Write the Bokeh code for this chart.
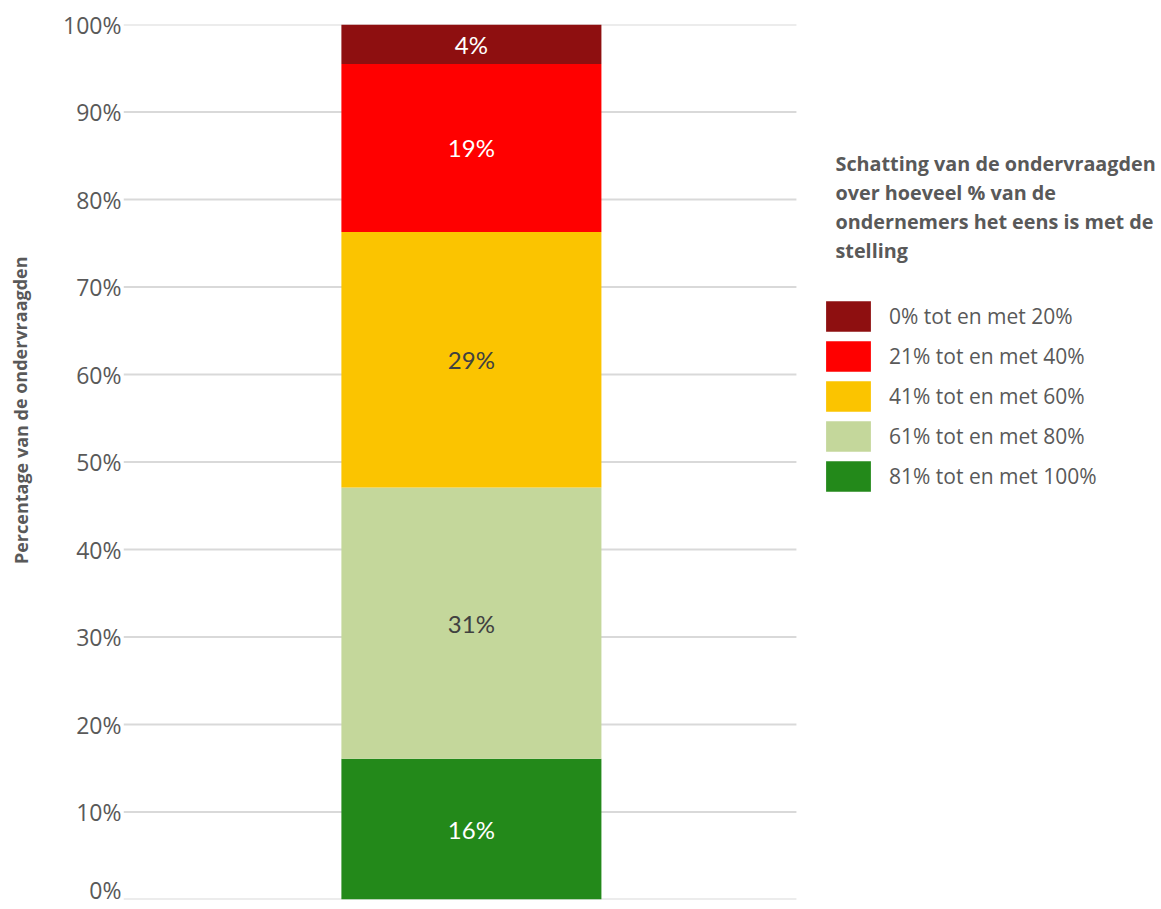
from bokeh.plotting import figure
from bokeh.layouts import row
from bokeh.models import (ColumnDataSource, Legend, LegendItem, Label, FixedTicker,
                          Range1d)
from bokeh.core.properties import value
from bokeh.embed import file_html
from bokeh.resources import INLINE

# ---- data ----
category = ["Stelling"]
classes = ["0% tot en met 20%", "21% tot en met 40%", "41% tot en met 60%",
           "61% tot en met 80%", "81% tot en met 100%"]
shares = [4.5, 19.2, 29.2, 31.0, 16.1]          # percent of respondents
share_labels = ["4%", "19%", "29%", "31%", "16%"]
colors = ["#8E0F10", "#FF0000", "#FBC400", "#C4D79B", "#23891A"]
label_colors = ["#FFFFFF", "#FFFFFF", "#404040", "#404040", "#FFFFFF"]
y_ticks = [0, 10, 20, 30, 40, 50, 60, 70, 80, 90, 100]
y_tick_labels = ["0%", "10%", "20%", "30%", "40%", "50%", "60%", "70%", "80%", "90%", "100%"]
legend_title = ["Schatting van de ondervraagden", "over hoeveel % van de",
                "ondernemers het eens is met de", "stelling"]
y_title = "Percentage van de ondervraagden"

GRID = "#D9D9D9"
TXT = "#595959"
BAR_W = 1.0
X_START, X_END = -1.338, 2.654     # view range in bar-width units
GRID_END = 1.25                     # plot area right edge
H = 905
SIDE_W = 35

# ---- narrow side panel holding the rotated y-axis title ----
side = figure(width=SIDE_W, height=H, output_backend="svg", toolbar_location=None,
              x_range=Range1d(0, SIDE_W), y_range=Range1d(0, H),
              min_border=0)
side.axis.visible = False
side.grid.visible = False
side.outline_line_color = None
side.add_layout(Label(x=20, y=H - 399, x_units="data", y_units="data", angle=1.5708,
                      text=y_title, text_font="Open Sans", text_font_style="bold",
                      text_font_size="18px", text_color=TXT,
                      text_align="center", text_baseline="middle"))

# ---- main chart ----
p = figure(width=1161 - SIDE_W, height=H, output_backend="svg", toolbar_location=None,
           frame_width=1038, frame_height=875,
           x_range=Range1d(X_START, X_END), y_range=Range1d(0, 100),
           min_border_left=123 - SIDE_W, min_border_top=24, min_border_bottom=6,
           min_border_right=0)
p.outline_line_color = None
p.background_fill_color = "white"
p.border_fill_color = "white"
p.xaxis.visible = False
p.xgrid.visible = False
p.ygrid.visible = False

p.yaxis.ticker = FixedTicker(ticks=y_ticks)
p.yaxis.major_label_overrides = {t: l for t, l in zip(y_ticks, y_tick_labels)}
p.yaxis.axis_line_color = None
p.yaxis.major_tick_line_color = None
p.yaxis.minor_tick_line_color = None
p.yaxis.major_label_text_font = "Open Sans"
p.yaxis.major_label_text_font_size = "23px"
p.yaxis.major_label_text_color = TXT
p.yaxis.major_label_standoff = -4

# horizontal gridlines across the plot area only
p.segment(x0=[X_START] * len(y_ticks), x1=[GRID_END] * len(y_ticks),
          y0=y_ticks, y1=y_ticks, line_color=GRID, line_width=2)

# stacked bar, bottom to top: last class first
acc = 0.0
renderers = {}
for i in range(len(classes) - 1, -1, -1):
    bottom = acc
    top = acc + shares[i]
    acc = top
    src = ColumnDataSource(dict(x=[0.0], bottom=[bottom], top=[top],
                                mid=[(bottom + top) / 2], lab=[share_labels[i]]))
    r = p.vbar(x="x", bottom="bottom", top="top", width=BAR_W, source=src,
               fill_color=colors[i], line_color=None)
    renderers[i] = r
    p.text(x="x", y="mid", text="lab", source=src, text_align="center",
           text_baseline="middle", text_font=value("Lato"), text_font_size="24px",
           text_color=label_colors[i])

legend = Legend(items=[LegendItem(label=classes[i], renderers=[renderers[i]]) for i in range(len(classes))],
                location=(697, 404))
legend.glyph_width = 56
legend.glyph_height = 38
legend.spacing = 2
legend.padding = 0
legend.margin = 0
legend.label_standoff = 13
legend.label_text_font = "Open Sans"
legend.label_text_font_size = "21px"
legend.label_text_color = TXT
legend.border_line_color = None
legend.background_fill_alpha = 0
legend.label_height = 38
p.add_layout(legend)

for k, line in enumerate(legend_title):
    p.add_layout(Label(x=712, y=736 - 29 * k, x_units="screen", y_units="screen",
                       text=line, text_font="Open Sans", text_font_style="bold",
                       text_font_size="19.8px", text_color=TXT,
                       text_align="left", text_baseline="middle"))

layout = row(side, p, spacing=0)
open("out.html", "w").write(file_html(layout, INLINE))
